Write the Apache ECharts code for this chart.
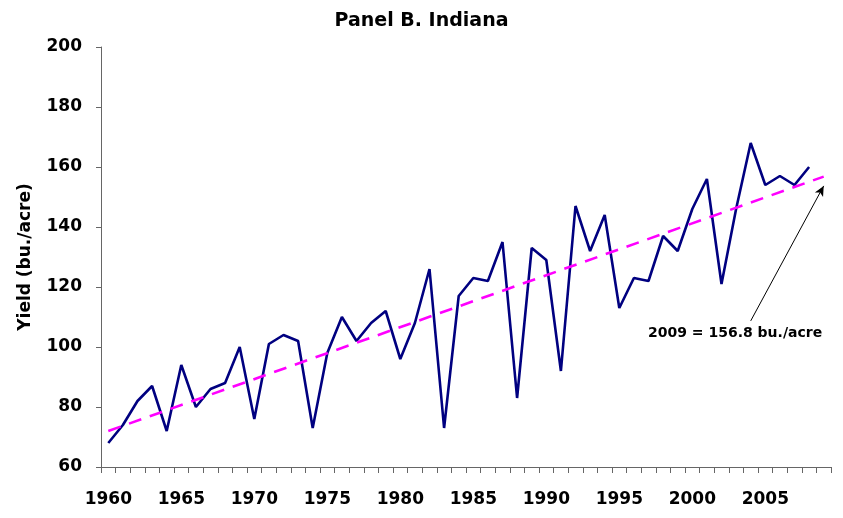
<!DOCTYPE html>
<html>
<head>
<meta charset="utf-8">
<script src="https://cdn.jsdelivr.net/npm/echarts@6/dist/echarts.min.js"></script>
<style>
  html, body { margin: 0; padding: 0; background: #fff; }
  #plot1 { width: 843px; height: 518px; }
</style>
</head>
<body>
<div id="plot1"></div>
<script>
// years 1960..2009 (2009 has only the trend value)
const years = [];
for (let y = 1960; y <= 2009; y++) years.push(String(y));

// Indiana corn yield, bu./acre
const yieldValues = [
  68, 74, 82, 87, 72, 94, 80, 86, 88, 100,
  76, 101, 104, 102, 73, 98, 110, 102, 108, 112,
  96, 108, 126, 73, 117, 123, 122, 135, 83, 133,
  129, 92, 147, 132, 144, 113, 123, 122, 137, 132,
  146, 156, 121, 146, 168, 154, 157, 154, 160, null
];

// linear trend, only its two end points are drawn
const trendValues = years.map(function () { return null; });
trendValues[0] = 72.0;
trendValues[49] = 156.8;

const yTicks = [60, 80, 100, 120, 140, 160, 180, 200];

const font = 'DejaVu Sans';

const myChart = echarts.init(document.getElementById('plot1'));
const option = {
  animation: false,
  backgroundColor: '#fff',
  title: {
    text: 'Panel B. Indiana',
    left: 'center',
    top: 7,
    textStyle: { fontFamily: font, fontWeight: 'bold', fontSize: 19, color: '#000' }
  },
  grid: { left: 101, right: 12, top: 47, bottom: 51 },
  xAxis: {
    type: 'category',
    data: years,
    boundaryGap: true,
    axisLine: { lineStyle: { color: '#666', width: 1 } },
    axisTick: { show: true, interval: 0, length: 6, lineStyle: { color: '#666' } },
    axisLabel: {
      interval: 4,
      margin: 24,
      color: '#000',
      fontFamily: font,
      fontWeight: 'bold',
      fontSize: 17
    },
    splitLine: { show: false }
  },
  yAxis: {
    type: 'value',
    min: yTicks[0],
    max: yTicks[yTicks.length - 1],
    interval: 20,
    name: 'Yield (bu./acre)',
    nameLocation: 'middle',
    nameGap: 67,
    nameTextStyle: { fontFamily: font, fontWeight: 'bold', fontSize: 17, color: '#000' },
    axisLine: { show: true, lineStyle: { color: '#666', width: 1 } },
    axisTick: { show: true, length: 5, lineStyle: { color: '#666' } },
    axisLabel: {
      margin: 19,
      color: '#000',
      fontFamily: font,
      fontWeight: 'bold',
      fontSize: 17
    },
    splitLine: { show: false }
  },
  graphic: [{
    type: 'text',
    left: 648,
    top: 326,
    style: {
      text: '2009 = 156.8 bu./acre',
      fontFamily: font,
      fontWeight: 'bold',
      fontSize: 14,
      fill: '#000'
    }
  }],
  series: [
    {
      name: 'Yield',
      type: 'line',
      data: yieldValues,
      showSymbol: false,
      lineStyle: { color: '#000080', width: 2.6 },
      z: 3
    },
    {
      name: 'Trend',
      type: 'line',
      data: trendValues,
      connectNulls: true,
      showSymbol: false,
      lineStyle: { color: '#ff00ff', width: 2.6, type: [13, 9] },
      z: 4,
      markLine: {
        silent: true,
        symbol: ['none', 'arrow'],
        symbolSize: [7, 10],
        label: { show: false },
        lineStyle: { color: '#000', width: 1, type: 'solid' },
        data: [[
          { coord: ['2004', 108.7] },
          { coord: ['2009', 153.7] }
        ]]
      }
    }
  ]
};
myChart.setOption(option);
</script>
</body>
</html>
